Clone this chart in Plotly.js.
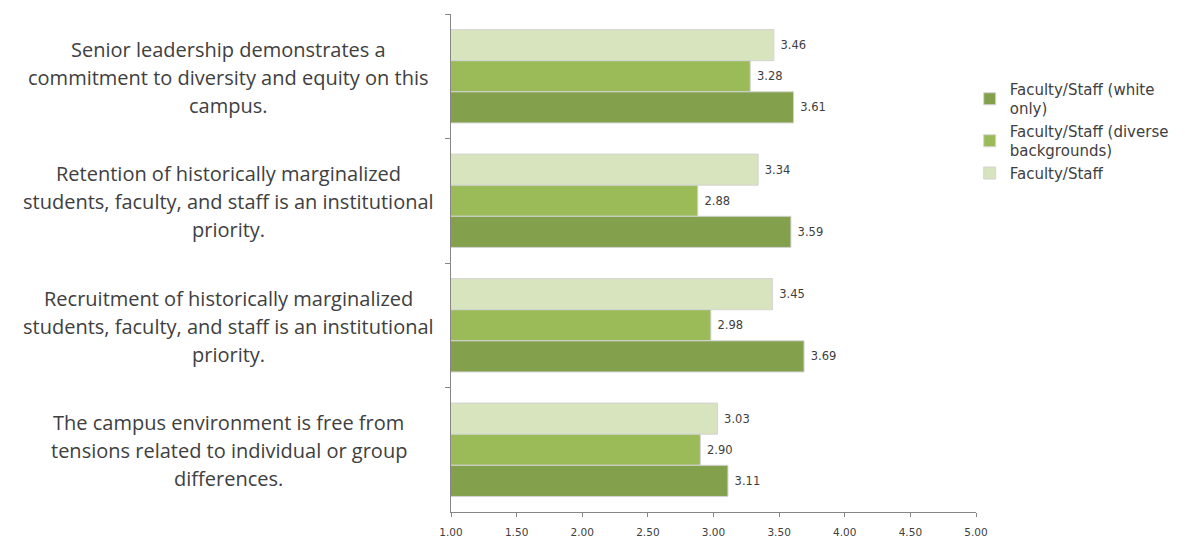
<!DOCTYPE html>
<html>
<head>
<meta charset="utf-8">
<script src="https://cdn.plot.ly/plotly-3.0.1.min.js"></script>
<style>html,body{margin:0;padding:0;background:#fff;}#chart{width:1185px;height:542px;}</style>
</head>
<body>
<div id="chart"></div>
<script>
// Categories (top to bottom)
var categories = [
  "Senior leadership demonstrates a commitment to diversity and equity on this campus.",
  "Retention of historically marginalized students, faculty, and staff is an institutional priority.",
  "Recruitment of historically marginalized students, faculty, and staff is an institutional priority.",
  "The campus environment is free from tensions related to individual or group differences."
];
// Wrapped label lines for each category
var categoryLines = [
  ["Senior leadership demonstrates a", "commitment to diversity and equity on this", "campus."],
  ["Retention of historically marginalized", "students, faculty, and staff is an institutional", "priority."],
  ["Recruitment of historically marginalized", "students, faculty, and staff is an institutional", "priority."],
  ["The campus environment is free from", "tensions related to individual or group", "differences."]
];
var seriesNames = ["Faculty/Staff", "Faculty/Staff (diverse<br>backgrounds)", "Faculty/Staff (white<br>only)"];
var facultyStaff = [3.46, 3.34, 3.45, 3.03];
var facultyStaffDiverse = [3.28, 2.88, 2.98, 2.90];
var facultyStaffWhite = [3.61, 3.59, 3.69, 3.11];
var seriesValues = [facultyStaff, facultyStaffDiverse, facultyStaffWhite];
var seriesColors = ["#d7e4bd", "#9bbb59", "#83a04d"];
var xTickVals = [1, 1.5, 2, 2.5, 3, 3.5, 4, 4.5, 5];

var traces = seriesValues.map(function(vals, i) {
  return {
    type: "bar",
    orientation: "h",
    name: seriesNames[i],
    x: vals,
    y: categories,
    marker: {color: seriesColors[i], line: {color: "#d4d4d4", width: 1}},
    texttemplate: "\u00a0%{x:.2f}",
    textposition: "outside",
    cliponaxis: false,
    textfont: {family: "DejaVu Sans", size: 11.5, color: "#404040"},
    hoverinfo: "x+name"
  };
});

var annotations = [];
categoryLines.forEach(function(lines, ci) {
  var n = lines.length;
  lines.forEach(function(line, li) {
    annotations.push({
      xref: "paper", yref: "y",
      x: -0.423, y: categories[ci],
      xanchor: "center", yanchor: "middle",
      text: line, showarrow: false,
      yshift: -((li - (n - 1) / 2) * 28) - 1,
      font: {family: "Open Sans, sans-serif", size: 20, color: "#404040"}
    });
  });
});

var layout = {
  width: 1185, height: 542,
  margin: {l: 451, r: 209, t: 14, b: 30, autoexpand: false},
  paper_bgcolor: "#ffffff", plot_bgcolor: "#ffffff",
  barmode: "group",
  bargap: 0.25,
  bargroupgap: 0,
  showlegend: true,
  legend: {
    x: 0.988, y: 0.882, xanchor: "left", yanchor: "top",
    traceorder: "reversed",
    font: {family: "DejaVu Sans", size: 15, color: "#404040"},
    itemwidth: 30, tracegroupgap: 0
  },
  xaxis: {
    range: [1, 5],
    tickvals: xTickVals,
    tickformat: ".2f",
    showgrid: false, zeroline: false,
    showline: true, linecolor: "#868686", linewidth: 1,
    ticks: "outside", ticklen: 4, tickcolor: "#868686",
    ticklabelstandoff: 6,
    tickfont: {family: "DejaVu Sans", size: 10.5, color: "#404040"}
  },
  yaxis: {
    autorange: "reversed",
    showticklabels: false,
    showgrid: false, zeroline: false,
    showline: true, linecolor: "#868686", linewidth: 1,
    ticks: "outside", ticklen: 5, tickcolor: "#868686",
    tickson: "boundaries"
  },
  annotations: annotations
};

Plotly.newPlot("chart", traces, layout, {displayModeBar: false, staticPlot: true});
</script>
</body>
</html>
